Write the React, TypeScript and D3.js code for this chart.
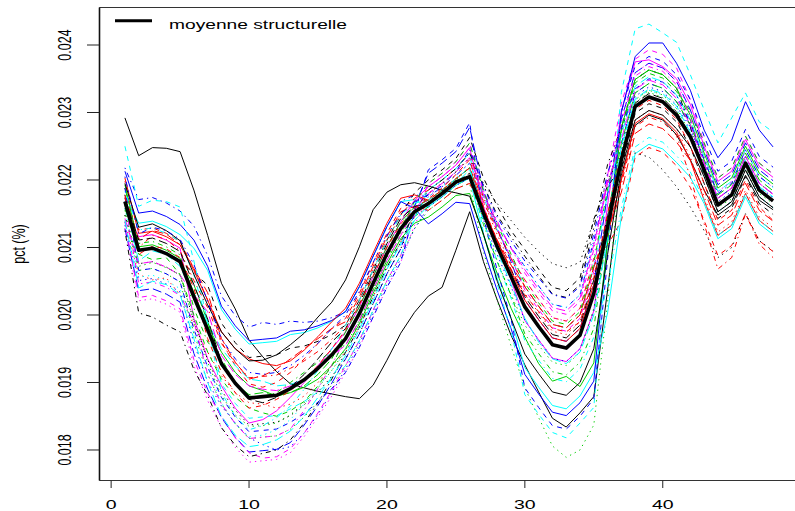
import React from 'react';
import * as d3 from 'd3';

// values are pct expressed in units of 1e-5 (e.g. 2168 -> 0.02168)
const UNIT = 1e-5;
const periods = Array.from({ length: 48 }, (_, i) => i + 1);
const xTicks = [0, 10, 20, 30, 40];
const yTicks = [0.018, 0.019, 0.02, 0.021, 0.022, 0.023, 0.024];
const legendLabel = 'moyenne structurelle';
const yLabel = 'pct (%)';

const meanLine = [2168,2096,2099,2091,2079,2027,1978,1928,1899,1877,1879,1881,1891,1904,1921,1941,1965,2002,2047,2091,2128,2153,2165,2180,2197,2205,2151,2101,2057,2012,1983,1956,1951,1970,2032,2131,2230,2309,2323,2316,2296,2264,2215,2163,2178,2225,2185,2169];

const s01 = [2292,2236,2248,2247,2242,2185,2118,2047,2009,1963,1938,1916,1898,1892,1887,1883,1879,1876,1896,1933,1973,2004,2028,2041,2096,2153,2079,2022,1970,1926,1886,1847,1834,1855,1879,2037,2207,2281,2296,2289,2267,2230,2185,2148,2163,2207,2170,2156];
const s02 = [2188,2126,2129,2121,2109,2069,2022,1960,1925,1898,1893,1900,1915,1935,1958,1980,1995,2032,2077,2121,2158,2170,2170,2185,2202,2218,2168,2124,2085,2052,2023,1996,1991,2010,2084,2103,2140,2234,2248,2241,2221,2189,2140,2088,2103,2150,2110,2094];
const s03 = [2148,2066,2069,2061,2049,1973,1912,1868,1839,1817,1819,1821,1831,1849,1871,1896,1925,1962,2007,2051,2088,2128,2155,2170,2187,2195,2094,2021,1954,1892,1848,1806,1789,1800,1837,2019,2242,2319,2333,2326,2306,2269,2215,2163,2178,2225,2185,2169];
const s04 = [2218,2171,2174,2166,2154,2132,2088,2028,1999,1982,1989,1986,1991,1989,1991,1996,2005,2042,2087,2131,2168,2178,2175,2190,2207,2225,2178,2136,2100,2072,2043,2016,2011,2030,2110,2195,2254,2329,2343,2336,2316,2279,2225,2173,2188,2235,2195,2179];
const s05 = [2168,2080,2095,2090,2072,2027,1989,1950,1925,1905,1902,1895,1897,1905,1920,1940,1965,2002,2047,2091,2128,2163,2185,2200,2217,2240,2174,2126,2084,2042,2013,1986,1981,2000,2071,2179,2266,2339,2353,2346,2326,2289,2235,2183,2198,2245,2205,2189];
const s06 = [2158,2116,2119,2111,2099,1995,1935,1895,1862,1840,1845,1858,1878,1900,1925,1950,1975,2012,2057,2101,2138,2170,2190,2205,2222,2248,2161,2104,2052,1992,1963,1936,1931,1950,2006,2163,2302,2375,2378,2368,2350,2312,2250,2198,2213,2260,2220,2204];
const s07 = [2178,2096,2099,2091,2079,2063,2044,1988,1959,1937,1939,1941,1951,1954,1961,1971,1985,2022,2067,2111,2148,2181,2200,2215,2232,2263,2203,2161,2125,2097,2068,2041,2036,2055,2142,2191,2218,2299,2313,2306,2286,2249,2195,2143,2158,2205,2165,2149];
const s08 = [2138,2060,2052,2055,2030,1985,1945,1910,1885,1870,1868,1862,1868,1880,1900,1925,1945,1982,2027,2071,2108,2151,2180,2195,2212,2233,2168,2119,2075,2032,2003,1976,1971,1990,2058,2131,2206,2289,2303,2296,2276,2234,2175,2123,2138,2185,2145,2129];
const s09 = [2188,2106,2109,2101,2089,2010,1960,1935,1900,1880,1878,1885,1900,1915,1930,1948,1955,1992,2037,2081,2118,2146,2160,2175,2192,2203,2134,2079,2029,1972,1943,1916,1911,1930,1980,2131,2278,2349,2363,2356,2336,2289,2225,2173,2188,2235,2195,2179];
const s10 = [2128,2036,2039,2031,2019,1943,1890,1848,1819,1797,1799,1801,1811,1837,1866,1899,1935,1972,2017,2061,2098,2161,2210,2225,2242,2278,2184,2129,2079,2022,1993,1966,1961,1980,2045,2179,2290,2359,2373,2366,2346,2304,2245,2193,2208,2255,2215,2199];
const s11 = [2178,2136,2139,2131,2119,2099,2066,2008,1979,1957,1959,1961,1971,1974,1981,1991,2005,2042,2087,2131,2168,2171,2160,2175,2192,2203,2118,2054,1995,1922,1893,1866,1861,1880,1915,2003,2146,2239,2253,2246,2226,2204,2165,2113,2128,2175,2135,2119];
const s12 = [2138,2026,2029,2021,2009,1934,1884,1850,1818,1796,1788,1790,1802,1825,1855,1888,1925,1962,2007,2051,2088,2148,2195,2210,2227,2255,2179,2128,2084,2037,2008,1981,1976,1995,2064,2207,2314,2379,2393,2386,2366,2319,2255,2203,2218,2265,2225,2209];
const s13 = [2148,2076,2079,2071,2059,1991,1934,1888,1859,1837,1839,1841,1851,1867,1886,1909,1935,1972,2017,2061,2098,2146,2180,2195,2212,2233,2195,2165,2140,2115,2094,2076,2070,2078,2140,2200,2235,2240,2234,2215,2190,2160,2125,2085,2100,2150,2110,2095];
const s14 = [2198,2100,2118,2112,2095,2051,2011,1958,1929,1907,1909,1911,1921,1932,1946,1964,1985,2022,2067,2111,2148,2173,2185,2200,2217,2240,2174,2126,2084,2042,2013,1986,1981,2000,2071,2131,2194,2279,2293,2286,2266,2204,2135,2068,2085,2150,2105,2085];
const s15 = [2158,2096,2099,2091,2079,2045,1990,1925,1898,1882,1885,1880,1885,1895,1912,1935,1975,2012,2057,2101,2138,2160,2170,2185,2202,2218,2154,2104,2059,2012,1983,1956,1951,1970,2032,2147,2254,2329,2343,2336,2316,2282,2230,2178,2193,2240,2200,2184];
const s16 = [2213,2151,2154,2146,2134,2111,2072,2013,1984,1962,1964,1966,1976,1978,1984,1992,2005,2042,2087,2131,2168,2158,2135,2150,2167,2165,2098,2036,1980,1912,1883,1856,1851,1870,1902,2115,2300,2383,2403,2403,2373,2333,2274,2233,2259,2316,2274,2249];
const s17 = [2250,2161,2170,2168,2160,2080,1990,1898,1869,1847,1849,1851,1861,1872,1886,1904,1925,1962,2007,2051,2088,2143,2185,2200,2217,2240,2121,2046,1977,1882,1853,1826,1818,1840,1863,2106,2330,2424,2431,2418,2404,2356,2304,2255,2292,2329,2286,2271];
const s18 = [2128,2021,2024,2016,2004,1925,1873,1833,1804,1782,1784,1786,1796,1820,1849,1880,1915,1952,1997,2041,2078,2133,2175,2190,2207,2225,2171,2126,2087,2052,2023,1996,1991,2010,2084,2203,2290,2359,2373,2366,2346,2299,2235,2183,2198,2245,2205,2189];
const s19 = [2125,2003,1997,1985,1975,1919,1881,1833,1807,1790,1795,1800,1815,1840,1870,1905,1945,1982,2027,2071,2108,2153,2185,2200,2217,2240,2192,2148,2116,2087,2058,2031,2026,2045,2129,2223,2278,2349,2363,2356,2336,2279,2205,2153,2168,2215,2175,2159];
const s20 = [2178,2112,2125,2120,2104,2069,2033,1965,1930,1905,1910,1920,1935,1950,1965,1980,1990,2027,2072,2116,2153,2161,2155,2170,2187,2195,2154,2111,2074,2042,2013,1986,1981,2000,2071,2123,2182,2269,2283,2276,2256,2229,2185,2133,2148,2195,2155,2139];
const s21 = [2193,2101,2104,2096,2084,2033,1984,1945,1915,1895,1888,1880,1885,1893,1905,1925,1950,1987,2032,2076,2113,2136,2145,2160,2177,2180,2118,2061,2010,1967,1928,1902,1909,1894,1929,2107,2278,2349,2363,2356,2336,2296,2240,2188,2203,2250,2210,2194];
const s22 = [2188,2066,2069,2061,2049,1979,1923,1878,1849,1827,1829,1831,1841,1854,1871,1891,1915,1952,1997,2041,2078,2153,2215,2230,2247,2285,2144,2066,1994,1892,1863,1836,1831,1850,1876,2083,2302,2369,2383,2376,2356,2319,2265,2213,2228,2275,2235,2219];
const s23 = [2158,2056,2059,2051,2039,1973,1923,1870,1838,1820,1822,1830,1845,1868,1893,1918,1945,1982,2027,2071,2108,2148,2175,2190,2207,2225,2178,2136,2100,2072,2043,2016,2011,2030,2110,2187,2242,2319,2333,2326,2306,2264,2205,2153,2168,2215,2175,2159];
const s24 = [2168,2046,2049,2041,2029,1990,1912,1868,1839,1817,1819,1821,1831,1859,1891,1926,1965,2002,2047,2091,2128,2166,2190,2205,2222,2248,2184,2139,2099,2062,2033,2006,2001,2020,2097,2207,2284,2354,2368,2361,2341,2292,2225,2173,2188,2235,2195,2179];
const s25 = [2173,2111,2114,2106,2094,2045,1994,1930,1898,1875,1870,1878,1893,1912,1935,1960,1980,2017,2062,2106,2143,2161,2165,2180,2197,2210,2156,2109,2067,2027,1998,1971,1966,1985,2052,2147,2236,2314,2328,2321,2301,2267,2215,2163,2178,2225,2185,2169];
const s26 = [2203,2121,2124,2116,2104,2066,2022,1975,1950,1935,1928,1925,1932,1948,1968,1990,2010,2047,2092,2136,2173,2178,2170,2185,2202,2218,2158,2109,2065,2022,1993,1966,1961,1980,2045,2119,2200,2284,2298,2291,2271,2229,2170,2118,2133,2180,2140,2124];
const s27 = [2163,2090,2082,2085,2060,2000,1945,1905,1878,1862,1855,1850,1858,1872,1895,1925,1965,2002,2047,2091,2128,2168,2195,2210,2227,2255,2183,2134,2090,2047,2018,1991,1986,2005,2077,2187,2272,2344,2358,2351,2331,2302,2255,2203,2218,2265,2225,2209];
const s28 = [2133,2051,2054,2046,2034,1958,1901,1865,1840,1818,1808,1800,1805,1825,1853,1885,1920,1957,2002,2046,2083,2128,2160,2175,2192,2203,2141,2089,2042,1992,1963,1936,1931,1950,2006,2127,2248,2324,2338,2331,2311,2274,2220,2168,2183,2230,2190,2174];
const s29 = [2183,2126,2129,2121,2109,2060,1985,1885,1850,1830,1836,1848,1865,1890,1918,1950,1985,2022,2067,2111,2148,2166,2170,2185,2202,2218,2138,2079,2025,1962,1933,1906,1901,1920,1967,2043,2158,2249,2263,2256,2236,2212,2170,2118,2133,2180,2140,2124];
const s30 = [2143,2076,2079,2071,2059,2030,2005,1940,1912,1895,1890,1888,1895,1905,1920,1940,1955,1992,2037,2081,2118,2156,2180,2195,2212,2233,2179,2136,2099,2067,2038,2011,2006,2025,2104,2195,2260,2334,2348,2341,2321,2282,2225,2173,2188,2235,2195,2179];
const s31 = [2195,2130,2135,2125,2110,2060,2015,1975,1950,1932,1933,1941,1956,1973,1997,2019,2052,2101,2156,2182,2193,2196,2191,2185,2181,2176,2120,2050,1995,1942,1913,1886,1881,1900,1950,2090,2215,2289,2303,2296,2276,2249,2205,2153,2168,2215,2175,2159];
const s32 = [2175,2090,2102,2098,2085,2040,1965,1915,1885,1862,1866,1875,1888,1905,1925,1950,1978,2015,2058,2100,2135,2158,2172,2188,2208,2230,2160,2110,2068,2030,2005,1980,1975,1990,2055,2150,2240,2305,2318,2310,2290,2250,2195,2140,2155,2200,2160,2140];
const s33 = [2155,2072,2078,2070,2060,1990,1930,1880,1852,1835,1836,1840,1852,1870,1892,1918,1948,1990,2038,2085,2122,2150,2168,2184,2200,2218,2140,2080,2030,1985,1955,1930,1925,1945,2010,2120,2235,2315,2330,2322,2300,2262,2210,2160,2172,2220,2180,2165];
const s34 = [2205,2120,2130,2125,2112,2075,2020,1965,1935,1915,1912,1915,1925,1940,1958,1980,2000,2035,2078,2118,2150,2168,2178,2192,2212,2245,2190,2145,2110,2080,2055,2030,2025,2042,2120,2210,2275,2335,2350,2345,2325,2285,2230,2180,2195,2245,2205,2190];
const s35 = [2140,2040,2050,2045,2030,1965,1900,1850,1822,1805,1808,1815,1828,1850,1878,1908,1940,1978,2022,2068,2105,2140,2162,2178,2195,2215,2155,2095,2045,1995,1960,1935,1928,1945,2000,2115,2250,2320,2335,2328,2310,2270,2215,2165,2180,2230,2190,2175];

const seriesList = [s01,s02,s03,s04,s05,s06,s07,s08,s09,s10,s11,s12,s13,s14,s15,s16,s17,s18,s19,s20,s21,s22,s23,s24,s25,s26,s27,s28,s29,s30,s31,s32,s33,s34,s35];

const COLORS = ['#000000', '#FF0000', '#00CD00', '#0000FF', '#00FFFF', '#FF00FF'];
const DASHES = ['', '5,5', '1.3,4', '1.3,4,5,4', '9,4'];

const W = 795;
const H = 511;
const FONT = '"Liberation Sans", Arial, Helvetica, sans-serif';
const SX = 1.5;

export default function App() {
  const x = d3.scaleLinear().domain([-0.88, 49.88]).range([99, 799]);
  const y = d3.scaleLinear().domain([0.017545, 0.024563]).range([480.7, 7]);
  const line = d3
    .line<number>()
    .x((_, i) => x(periods[i]))
    .y((v) => y(v * UNIT));
  const fmt = d3.format('.3f');
  const left = 99.5;
  const top = 7.5;
  const bottom = 480.5;
  const right = 799.5;

  return (
    <svg
      width={W}
      height={H}
      viewBox={`0 0 ${W} ${H}`}
      style={{ position: 'absolute', left: 0, top: 0, background: '#fff' }}
      fontFamily={FONT}
    >
      <rect width={W} height={H} fill="#fff" />
      <g>
        {seriesList.map((s, k) => (
          <path
            key={k}
            d={line(s) || ''}
            fill="none"
            stroke={COLORS[k % 6]}
            strokeWidth={1}
            strokeDasharray={DASHES[k % 5] || undefined}
          />
        ))}
        <path d={line(meanLine) || ''} fill="none" stroke="#000" strokeWidth={3.6} strokeLinejoin="round" />
      </g>
      <path
        d={`M${right},${top}H${left}V${bottom}H${right}`}
        fill="none"
        stroke="#333"
        strokeWidth={1}
      />
      <line x1={left} x2={left} y1={top} y2={bottom} stroke="#111" strokeWidth={1.6} />
      {yTicks.map((t) => (
        <g key={t}>
          <line x1={87} x2={left} y1={y(t)} y2={y(t)} stroke="#222" strokeWidth={1} />
          <text
            transform={`translate(71,${y(t)}) scale(${SX},1) rotate(-90)`}
            textAnchor="middle"
            fontSize={12.5}
            fill="#000"
          >
            {fmt(t)}
          </text>
        </g>
      ))}
      <text
        transform={`translate(25,244) scale(${SX},1) rotate(-90)`}
        textAnchor="middle"
        fontSize={12.5}
        fill="#000"
      >
        {yLabel}
      </text>
      {xTicks.map((t) => (
        <g key={t}>
          <line x1={x(t)} x2={x(t)} y1={bottom} y2={488} stroke="#222" strokeWidth={1} />
          <text
            transform={`translate(${x(t)},509) scale(${SX},1)`}
            textAnchor="middle"
            fontSize={13}
            fill="#000"
          >
            {t}
          </text>
        </g>
      ))}
      <line x1={115} x2={152} y1={20.7} y2={20.7} stroke="#000" strokeWidth={3} />
      <text transform={`translate(169,29) scale(${SX},1)`} fontSize={12.8} fill="#000">
        {legendLabel}
      </text>
    </svg>
  );
}
